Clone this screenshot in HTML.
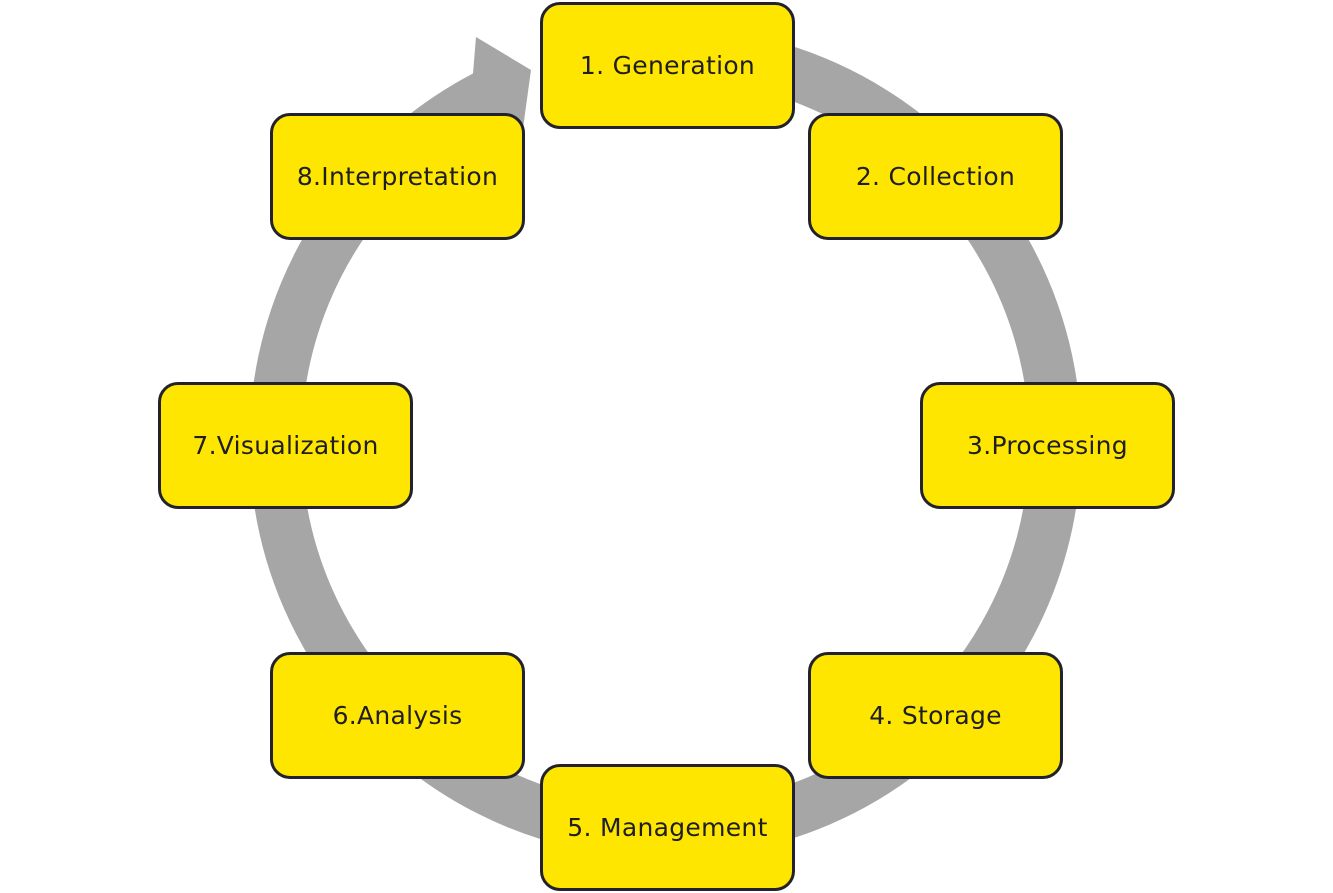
<!DOCTYPE html>
<html><head><meta charset="utf-8"><style>
html,body{margin:0;padding:0;background:#fff;}
body{width:1333px;height:893px;position:relative;overflow:hidden;font-family:"DejaVu Sans","Liberation Sans",sans-serif;}
.b{position:absolute;width:249px;height:121px;background:#FFE600;border:3px solid #22222a;border-radius:20px;display:flex;align-items:center;justify-content:center;font-size:25px;color:#1e1e24;letter-spacing:0.3px;box-sizing:content-box;}
svg{position:absolute;left:0;top:0;}
</style></head><body>
<svg width="1333" height="893">
<path d="M 599 58 A 390 390 0 1 1 496 91" fill="none" stroke="#a6a6a6" stroke-width="52"/>
<polygon points="476,37 531,70 520,150 470,110" fill="#a6a6a6"/>
</svg>
<div class="b" style="left:540px;top:2px">1. Generation</div>
<div class="b" style="left:808px;top:113px">2. Collection</div>
<div class="b" style="left:920px;top:382px">3.Processing</div>
<div class="b" style="left:808px;top:652px">4. Storage</div>
<div class="b" style="left:540px;top:764px">5. Management</div>
<div class="b" style="left:270px;top:652px">6.Analysis</div>
<div class="b" style="left:158px;top:382px">7.Visualization</div>
<div class="b" style="left:270px;top:113px">8.Interpretation</div>
</body></html>
